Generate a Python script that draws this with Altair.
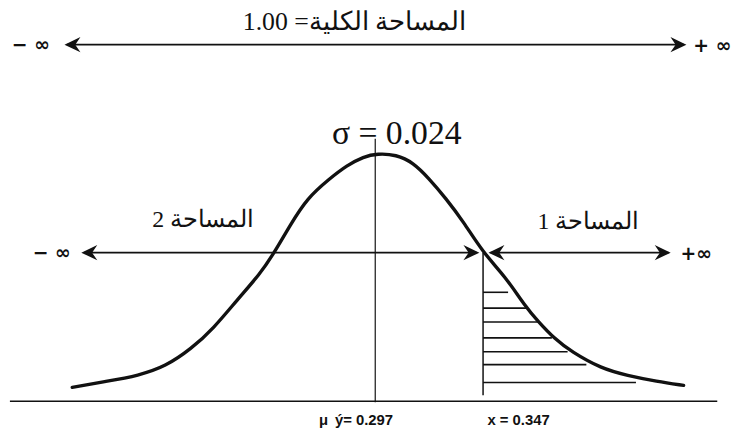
import altair as alt
import pandas as pd

# Parameters of the distribution shown on the sketch
mu = 0.297
x_val = 0.347
sigma = 0.024
total_area = "1.00"

# Hand-drawn bell curve: position in units of the variable, height relative to the peak
curve_x = [0.1565, 0.1722, 0.1873, 0.1997, 0.2117, 0.2218, 0.2332, 0.2434, 0.2502, 0.2576,
           0.2654, 0.2760, 0.2838, 0.2916, 0.2980, 0.3067, 0.3146, 0.3219, 0.3297, 0.3380,
           0.3470, 0.3573, 0.3665, 0.3724, 0.3802, 0.3880, 0.4018, 0.4138, 0.4276, 0.4400]
curve_h = [0.056, 0.080, 0.104, 0.140, 0.212, 0.292, 0.412, 0.512, 0.600, 0.712,
           0.820, 0.900, 0.952, 0.988, 1.000, 0.996, 0.964, 0.900, 0.820, 0.724,
           0.600, 0.504, 0.384, 0.324, 0.252, 0.200, 0.132, 0.104, 0.080, 0.064]

# Hatching of the upper tail: height of each stroke and where it stops
hatch_h = [0.440, 0.376, 0.320, 0.256, 0.200, 0.148, 0.076]
hatch_end = [0.3586, 0.3674, 0.3724, 0.3789, 0.3862, 0.3949, 0.4179]

xs = alt.Scale(domain=[0.123, 0.462], nice=False, zero=False)
ys = alt.Scale(domain=[-0.132, 1.612], nice=False, zero=False)


def X(f="x"):
    return alt.X(f"{f}:Q", scale=xs, axis=None)


def Y(f="y"):
    return alt.Y(f"{f}:Q", scale=ys, axis=None)


INK = "#111111"
SERIF = "Liberation Serif"

curve_df = pd.DataFrame({"x": curve_x, "y": curve_h, "i": range(len(curve_x))})
curve = alt.Chart(curve_df).mark_line(
    color=INK, strokeWidth=3.4, interpolate="basis", strokeCap="round"
).encode(x=X(), y=Y(), order="i:O")

hatch_df = pd.DataFrame({"x": [x_val] * len(hatch_h), "x2": hatch_end, "y": hatch_h})
hatch = alt.Chart(hatch_df).mark_rule(color=INK, strokeWidth=1.6).encode(
    x=X(), x2="x2:Q", y=Y()
)

# Straight strokes: baseline, mean line, cut-off line, arrow shafts
rules_df = pd.DataFrame([
    {"x": 0.1276, "x2": 0.4556, "y": 0.0, "y2": 0.0, "w": 1.6},
    {"x": mu, "x2": mu, "y": 1.06, "y2": -0.004, "w": 1.2},
    {"x": x_val, "x2": x_val, "y": 0.6, "y2": 0.024, "w": 1.5},
    {"x": 0.1540, "x2": 0.4400, "y": 1.44, "y2": 1.44, "w": 1.8},
    {"x": 0.1620, "x2": 0.3440, "y": 0.6, "y2": 0.6, "w": 1.8},
    {"x": 0.3505, "x2": 0.4330, "y": 0.6, "y2": 0.6, "w": 1.8},
])
rules = alt.Chart(rules_df).mark_rule(color=INK).encode(
    x=X(), x2="x2:Q", y=Y(), y2="y2:Q",
    strokeWidth=alt.StrokeWidth("w:Q", scale=None, legend=None),
)

LEFT_HEAD = "M0,0 L2,-0.95 L1.35,0 L2,0.95 Z"
RIGHT_HEAD = "M0,0 L-2,-0.95 L-1.35,0 L-2,0.95 Z"

left_heads = alt.Chart(pd.DataFrame({"x": [0.1529, 0.1607, 0.3495], "y": [1.44, 0.6, 0.6]})).mark_point(
    shape=LEFT_HEAD, filled=True, size=260, color=INK, opacity=1, strokeWidth=0
).encode(x=X(), y=Y())
right_heads = alt.Chart(pd.DataFrame({"x": [0.4413, 0.3453, 0.4340], "y": [1.44, 0.6, 0.6]})).mark_point(
    shape=RIGHT_HEAD, filled=True, size=260, color=INK, opacity=1, strokeWidth=0
).encode(x=X(), y=Y())

# Infinity markers at the ends of the arrows
inf_df = pd.DataFrame({
    "x": [0.1285, 0.1382, 0.4445, 0.4386],
    "y": [1.44, 0.6, 1.435, 0.595],
    "t": ["−  ∞", "−  ∞", "+  ∞", "+∞"],
})
infs = alt.Chart(inf_df).mark_text(
    align="left", baseline="middle", font="DejaVu Sans", fontSize=19, fontWeight="bold", color=INK
).encode(x=X(), y=Y(), text="t:N")

title = alt.Chart(pd.DataFrame({"x": [0.2874], "y": [1.50], "t": [f"المساحة الكلية= {total_area}"]})).mark_text(
    align="center", baseline="alphabetic", font=SERIF, fontSize=26, color=INK, dir="rtl"
).encode(x=X(), y=Y(), text="t:N")

sigma_txt = alt.Chart(pd.DataFrame({"x": [0.2769], "y": [1.04], "t": [f"σ = {sigma}"]})).mark_text(
    align="left", baseline="alphabetic", font=SERIF, fontSize=34, color=INK
).encode(x=X(), y=Y(), text="t:N")

areas = alt.Chart(pd.DataFrame({
    "x": [0.2172, 0.3959], "y": [0.732, 0.724], "t": ["المساحة 2", "المساحة 1"],
})).mark_text(
    align="center", baseline="middle", font=SERIF, fontSize=24, color=INK, dir="rtl"
).encode(x=X(), y=Y(), text="t:N")

bottom = alt.Chart(pd.DataFrame({
    "x": [0.2709, 0.2783, 0.3490], "y": [-0.076, -0.076, -0.076],
    "t": ["μ", f"ý= {mu}", f"x = {x_val}"],
})).mark_text(
    align="left", baseline="middle", font="Liberation Sans", fontSize=15, fontWeight="bold", color=INK
).encode(x=X(), y=Y(), text="t:N")

chart = alt.layer(
    rules, hatch, curve, left_heads, right_heads, infs, title, sigma_txt, areas, bottom
).properties(
    width=738, height=436, padding=0, background="white"
).configure_view(stroke=None)

chart.save("out.html", embed_options={"renderer": "svg", "actions": False})
